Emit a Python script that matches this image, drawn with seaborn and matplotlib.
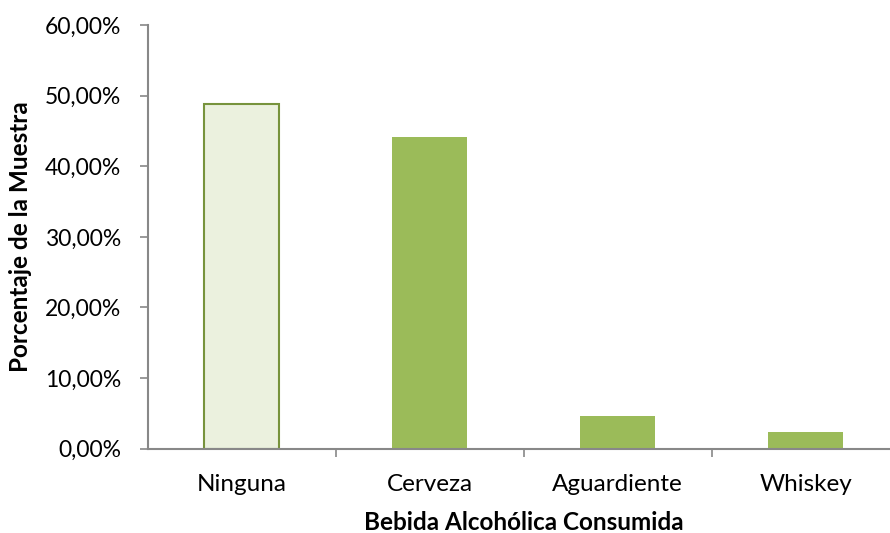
import matplotlib
matplotlib.use("Agg")
import matplotlib.pyplot as plt
import seaborn as sns
import pandas as pd
from matplotlib.ticker import FuncFormatter, FixedLocator

categories = ["Ninguna", "Cerveza", "Aguardiente", "Whiskey"]
values = [48.8, 44.1, 4.6, 2.3]
y_ticks = [0, 10, 20, 30, 40, 50, 60]

sns.set_theme(style="white")
plt.rcParams['font.family'] = ['Lato', 'DejaVu Sans']

df = pd.DataFrame({"cat": categories, "val": values})

fig = plt.figure(figsize=(8.9, 5.33), dpi=100)
ax = fig.add_axes([147.5/890, 1-448.7/533, (899.5-147.5)/890, (448.7-25.1)/533])

palette = ["#EBF1DE", "#9BBB59", "#9BBB59", "#9BBB59"]
sns.barplot(data=df, x="cat", y="val", hue="cat", palette=palette, legend=False,
            width=0.4, ax=ax, saturation=1)
for i, p in enumerate(ax.patches):
    if i == 0:
        p.set_edgecolor("#77933C")
        p.set_linewidth(1.5)
    else:
        p.set_edgecolor("none")

ax.set_xlim(-0.5, 3.5)
ax.set_ylim(0, 60)
ax.set_yticks(y_ticks)
ax.yaxis.set_major_formatter(FuncFormatter(lambda v, _: f"{v:.2f}".replace(".", ",") + "%"))
ax.xaxis.set_minor_locator(FixedLocator([0.5, 1.5, 2.5]))
ax.tick_params(axis="x", which="major", length=0, labelsize=17.5, pad=18, colors="#000000")
ax.tick_params(axis="x", which="minor", length=5.5, width=1.2, color="#888888", direction="out", bottom=True)
ax.tick_params(axis="y", length=6, width=1.2, color="#888888", direction="out", labelsize=16.5, pad=13, left=True)
for lab in ax.get_xticklabels() + ax.get_yticklabels():
    lab.set_color("#000000")

for s in ["top", "right"]:
    ax.spines[s].set_visible(False)
for s in ["left", "bottom"]:
    ax.spines[s].set_color("#888888")
    ax.spines[s].set_linewidth(1.5)

ax.set_xlabel("Bebida Alcohólica Consumida", fontsize=17.5, fontweight="bold", color="#000000", labelpad=12)
ax.set_ylabel("Porcentaje de la Muestra", fontsize=17.5, fontweight="bold", color="#000000", labelpad=9)

fig.savefig("out.png", dpi=100)
